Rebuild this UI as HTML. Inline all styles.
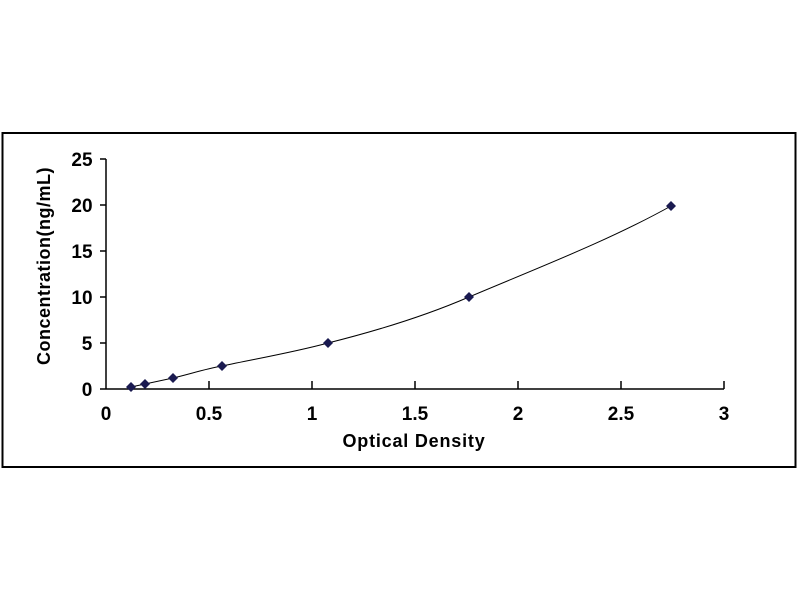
<!DOCTYPE html>
<html><head><meta charset="utf-8"><style>html,body{margin:0;padding:0;background:#fff}</style></head>
<body>
<svg width="800" height="600" xmlns="http://www.w3.org/2000/svg" font-family="Liberation Sans, Arial, sans-serif" font-weight="bold">
<rect x="2.5" y="133" width="793" height="334" fill="#fff" stroke="#000" stroke-width="2"/>
<g stroke="#000" stroke-width="1.5" fill="none">
<line x1="106" y1="159" x2="106" y2="389"/>
<line x1="106" y1="389" x2="724" y2="389"/>
<line x1="100" y1="159" x2="106" y2="159"/>
<line x1="100" y1="205" x2="106" y2="205"/>
<line x1="100" y1="251" x2="106" y2="251"/>
<line x1="100" y1="297" x2="106" y2="297"/>
<line x1="100" y1="343" x2="106" y2="343"/>
<line x1="100" y1="389" x2="106" y2="389"/>
<line x1="209" y1="381" x2="209" y2="389"/>
<line x1="312" y1="381" x2="312" y2="389"/>
<line x1="415" y1="381" x2="415" y2="389"/>
<line x1="518" y1="381" x2="518" y2="389"/>
<line x1="621" y1="381" x2="621" y2="389"/>
<line x1="724" y1="381" x2="724" y2="389"/>
</g>
<g font-size="19" text-anchor="middle" fill="#000">
<text x="82" y="166">25</text><text x="82" y="212">20</text><text x="82" y="258">15</text>
<text x="82" y="304">10</text><text x="87" y="350">5</text><text x="87" y="396">0</text>
<text x="106" y="420">0</text><text x="209" y="420">0.5</text><text x="312" y="420">1</text>
<text x="415" y="420">1.5</text><text x="518" y="420">2</text><text x="621" y="420">2.5</text><text x="724" y="420">3</text>
<text x="414" y="447" font-size="18" letter-spacing="0.8">Optical Density</text>
<text transform="translate(50,266) rotate(-90)" font-size="18" letter-spacing="0.5">Concentration(ng/mL)</text>
</g>
<path d="M131,387 L145,384 L173,378 C190,374 205,369 222,366 C260,358 295,352 328,343 C380,330 425,316 469,297 C540,267 610,240 671,206" fill="none" stroke="#000" stroke-width="1"/>
<g fill="#1a1a50">
<path d="M131,382 l5,5 l-5,5 l-5,-5z"/>
<path d="M145,379 l5,5 l-5,5 l-5,-5z"/>
<path d="M173,373 l5,5 l-5,5 l-5,-5z"/>
<path d="M222,361 l5,5 l-5,5 l-5,-5z"/>
<path d="M328,338 l5,5 l-5,5 l-5,-5z"/>
<path d="M469,292 l5,5 l-5,5 l-5,-5z"/>
<path d="M671,201 l5,5 l-5,5 l-5,-5z"/>
</g>
</svg>
</body></html>
